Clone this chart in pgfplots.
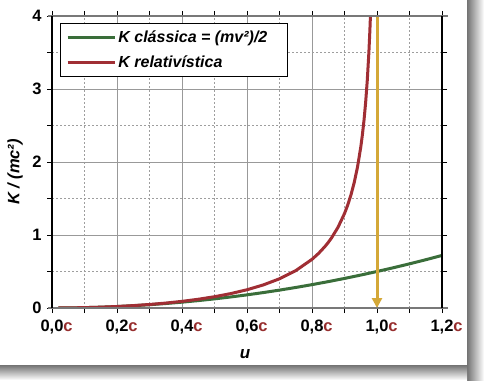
\documentclass[border=0pt]{standalone}
\usepackage{pgfplots}
\pgfplotsset{compat=1.18}
\usepackage{fontspec}
\setmainfont{Liberation Sans}
\usetikzlibrary{arrows.meta}
\definecolor{cgreen}{RGB}{58,110,58}
\definecolor{cred}{RGB}{160,46,52}
\definecolor{cgold}{RGB}{212,168,56}
\definecolor{cc}{RGB}{150,45,45}
\definecolor{axgray}{RGB}{120,120,120}
\newcommand{\C}{\rlap{\color{cc}c}}
\begin{document}
\begin{tikzpicture}[x=1pt,y=1pt]
\path[use as bounding box] (0,0) rectangle (484,380);
\fill[white] (0,0) rectangle (484,380);
\shade[left color=black!55, right color=white] (467,0) rectangle (484,380);
\shade[top color=black!55, bottom color=white] (0,0) rectangle (467,15);
\fill[white] (0,15) rectangle (467,380);
\begin{axis}[
  name=ax,
  at={(52pt,72pt)}, anchor=south west,
  scale only axis, width=390pt, height=292pt,
  xmin=0, xmax=1.2, ymin=0, ymax=4,
  axis line style={draw=none},
  xtick={0,0.2,0.4,0.6,0.8,1.0,1.2},
  xticklabels={{0,0\C},{0,2\C},{0,4\C},{0,6\C},{0,8\C},{1,0\C},{1,2\C}},
  minor xtick={0.1,0.3,0.5,0.7,0.9,1.1},
  ytick={0,1,2,3,4},
  yticklabels={0,1,2,3,4},
  minor ytick={0.5,1.5,2.5,3.5},
  tick align=outside,
  major tick length=5pt, minor tick length=5pt,
  every tick/.style={black, line width=0.8pt},
  grid=both,
  major grid style={draw=black!40, line width=0.9pt},
  minor grid style={draw=black!38, line width=0.8pt, dash pattern=on 2pt off 2pt},
  ticklabel style={font=\fontsize{16.5}{19}\selectfont\bfseries},
  xticklabel style={yshift=-3pt},
  yticklabel style={xshift=-2pt},
  legend style={at={(0,1)}, anchor=north west, xshift=8pt, yshift=-7pt,
    draw=black, line width=0.8pt, fill=white,
    font=\fontsize{16}{19}\selectfont\bfseries\itshape,
    row sep=7.5pt, inner xsep=6pt, inner ysep=5.5pt,
    cells={anchor=west}},
  legend image code/.code={\draw[#1, line width=3pt] (0pt,0pt) -- (43pt,0pt);
    \path (0pt,0pt) -- (47pt,0pt);},
]
\addplot[cgreen, line width=3pt] coordinates {
(0.02,0.0002) (0.05,0.00125) (0.1,0.005) (0.15,0.01125) (0.2,0.02) (0.25,0.03125)
(0.3,0.045) (0.35,0.06125) (0.4,0.08) (0.45,0.10125) (0.5,0.125) (0.55,0.15125)
(0.6,0.18) (0.65,0.21125) (0.7,0.245) (0.75,0.28125) (0.8,0.32) (0.85,0.36125)
(0.9,0.405) (0.95,0.45125) (1.0,0.5) (1.05,0.55125) (1.1,0.605) (1.15,0.66125) (1.2,0.72)};
\addlegendentry{K clássica = (mv²)/2\hspace*{12pt}}
\addplot[cred, line width=3pt] coordinates {
(0.02,0.0002) (0.05,0.00125) (0.1,0.00504) (0.15,0.01144) (0.2,0.02062) (0.25,0.0328)
(0.3,0.04828) (0.35,0.06752) (0.4,0.09109) (0.45,0.11979) (0.5,0.1547) (0.55,0.19737)
(0.6,0.25) (0.65,0.3159) (0.7,0.40028) (0.75,0.51186) (0.8,0.66667) (0.82,0.74715)
(0.84,0.84302) (0.85,0.89832) (0.86,0.95965) (0.88,1.10538) (0.9,1.29416) (0.91,1.41192)
(0.92,1.55155) (0.93,1.72064) (0.94,1.93105) (0.95,2.20256) (0.955,2.37148) (0.96,2.57143)
(0.965,2.81316) (0.97,3.11345) (0.975,3.50035) (0.978,3.79375) (0.98,4.02519)};
\addlegendentry{K relativística}
\addplot[cgold, line width=3pt, -{Triangle[length=10pt,width=10pt]}, forget plot]
  coordinates {(1.0,4) (1.0,0)};
\end{axis}
% axis frame lines
\draw[axgray, line width=2pt] ([xshift=-4pt]ax.north west) -- ([xshift=6pt]ax.north east);
\draw[axgray, line width=2pt] ([xshift=-4pt]ax.south west) -- ([xshift=6pt]ax.south east);
\draw[black, line width=1.3pt] (ax.south west) -- (ax.north west);
\draw[black, line width=1.3pt] (ax.south east) -- (ax.north east);
\node[rotate=90, font=\fontsize{16.5}{19}\selectfont\bfseries\itshape] at (15,208) {K / (mc²)};
\node[font=\fontsize{17}{19}\selectfont\bfseries\itshape] at (245,26) {u};
\end{tikzpicture}
\end{document}
